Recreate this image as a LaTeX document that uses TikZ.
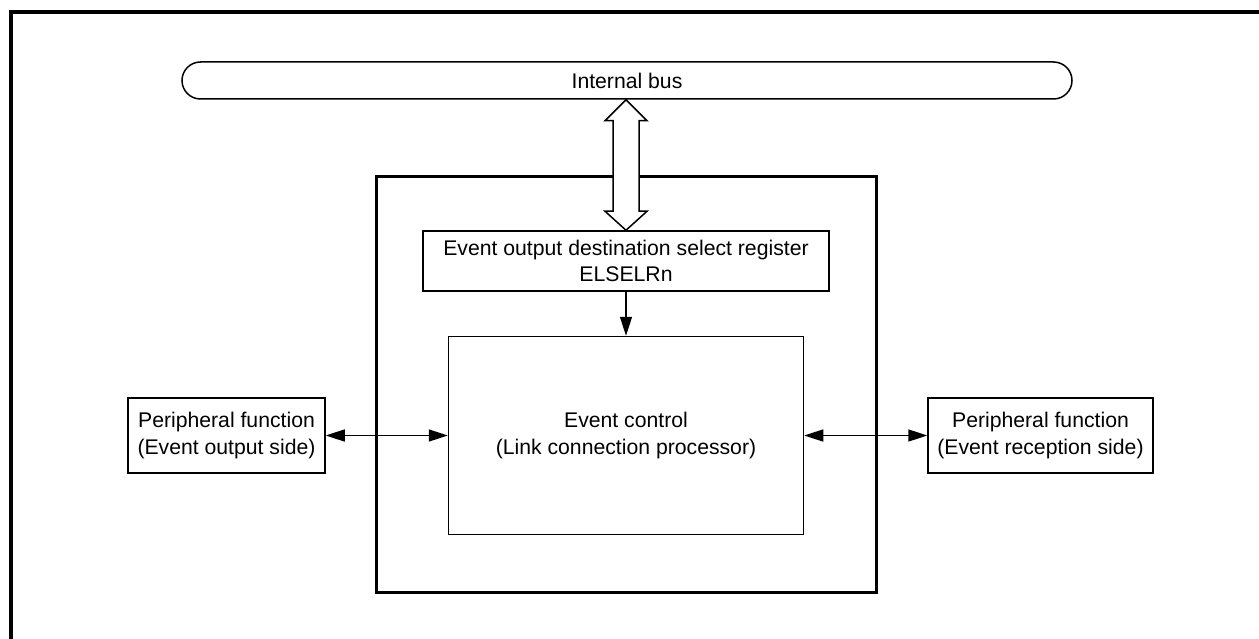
\documentclass[tikz,border=0pt]{standalone}
\usepackage{fontspec}
\setmainfont{Liberation Sans}
\usetikzlibrary{arrows.meta,positioning,calc}
\tikzset{
  blk/.style={draw, line width=1.5pt, align=center, inner sep=2pt,
              font=\fontsize{21.2}{26.5}\selectfont},
  busbar/.style={blk, rounded corners=18.5pt, minimum width=890pt, minimum height=37pt},
  elcbox/.style={draw, line width=3pt, minimum width=500pt, minimum height=415pt},
  regbox/.style={blk, minimum width=406pt, minimum height=60pt},
  ctrlbox/.style={blk, minimum width=355pt, minimum height=198pt},
  perbox/.style={blk, minimum height=75pt},
  arrow/.style={-{Triangle[length=19pt,width=12pt]}, line width=1.6pt},
  biarrow/.style={{Triangle[length=19pt,width=12pt]}-{Triangle[length=19pt,width=12pt]}, line width=1.6pt},
  hollow/.style={draw, fill=white, line width=1.5pt, line join=miter}
}
\begin{document}
\begin{tikzpicture}[x=1pt, y=-1pt]
  \useasboundingbox (0,0) rectangle (1259,639);
  % frame (only top and left edges show)
  \coordinate (fbl) at (11,639);
  \coordinate (ftl) at (11,12);
  \coordinate (ftr) at (1259,12);
  \draw[line width=3.5pt] (fbl) -- (ftl) -- (ftr);

  \node[busbar] (bus) at (627,80.5) {Internal bus};
  \node[elcbox] (elc) at (626,384.5) {};
  \node[regbox] (reg) at (626,261) {Event output destination select register\\ELSELRn};
  \node[ctrlbox, below=44pt of reg] (ctrl) {Event control\\(Link connection processor)};
  \node[perbox, minimum width=197pt, left=122pt of ctrl] (outp) {Peripheral function\\(Event output side)};
  \node[perbox, minimum width=225pt, right=123pt of ctrl] (recp) {Peripheral function\\(Event reception side)};

  \draw[arrow] (reg) -- (ctrl);
  \draw[biarrow] (outp) -- (ctrl);
  \draw[biarrow] (ctrl) -- (recp);

  % bus <-> register
  \coordinate (bt) at (reg.north |- bus.south);
  \draw[hollow] (bt) -- ++(21,21) -- ++(-8,0) -- ($(reg.north)+(13,-19)$) -- ++(8,0)
    -- (reg.north) -- ++(-21,-19) -- ++(8,0) -- ($(bt)+(-13,21)$) -- ++(-8,0) -- cycle;
\end{tikzpicture}
\end{document}
